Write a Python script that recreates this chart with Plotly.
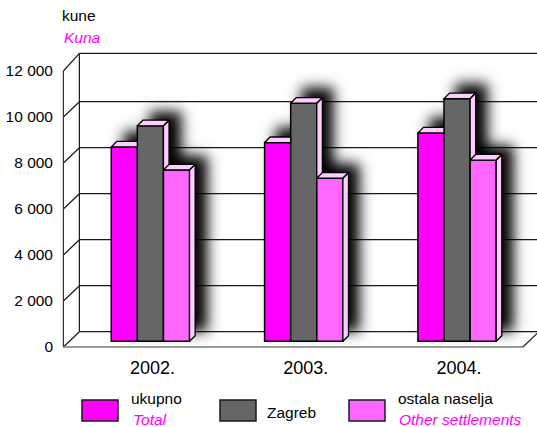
import numpy as np
import plotly.graph_objects as go

# ---- data ----
categories = ["2002.", "2003.", "2004."]
ukupno = [8450, 8640, 9060]
zagreb = [9370, 10350, 10550]
ostala = [7450, 7090, 7880]
y_ticks = [0, 2000, 4000, 6000, 8000, 10000, 12000]
y_labels = ["0", "2 000", "4 000", "6 000", "8 000", "10 000", "12 000"]

# ---- styles ----
MAGENTA, GREY, PINK, FACE = "#ff00ff", "#666666", "#ff66ff", "#ffccff"
FONT = "Liberation Sans, Arial, sans-serif"
W, H = 537, 427
PL, PR, PT, PB = 60, 537, 48, 352      # plot area in page pixels
X0, UX = 150.4, 153.33                 # pixel of category 0, pixels per category
Y0, UY = 347.0, 0.023                  # pixel of value 0, pixels per unit


def xv(px):
    return (px - X0) / UX


def yv(py):
    return (Y0 - py) / UY


def px_x(v):
    return X0 + v * UX


def px_y(v):
    return Y0 - v * UY


def paper_x(px):
    return (px - PL) / (PR - PL)


def paper_y(py):
    return (PB - py) / (PB - PT)


bar_w = 26.1 / UX
bar_base = yv(341.3)
dep_x, dep_y = 5.6 / UX, 5.6 / UY       # depth of a bar
wall_x, wall_y = 16 / UX, 15.3 / UY     # depth of the chart box
wall_top = yv(53.3)
left, right = xv(63.4), xv(522.9)

series = [(ukupno, MAGENTA), (zagreb, GREY), (ostala, PINK)]

shapes = []


def line(x0, y0, x1, y1, color="#1a1a1a", width=1.2):
    shapes.append(dict(type="line", layer="below", xref="x", yref="y", x0=x0, y0=y0, x1=x1, y1=y1,
                       line=dict(color=color, width=width)))


# box: back wall lines and slanted ticks
for v in y_ticks:
    back = wall_top if v == max(y_ticks) else v + wall_y
    line(left + wall_x, back, xv(PR + 5), back)
    line(left, v, left + wall_x, back)
line(left, 0, left, max(y_ticks), "#333333")
line(left + wall_x, wall_y, left + wall_x, wall_top)
line(left, 0, right, 0, "#7a7a7a", 1.6)
line(right, 0, right + wall_x, wall_y)

# soft shadow behind the bars, built from the same values
gx = np.arange(PL, PR + 2, 2.0)
gy = np.arange(PT, PB + 2, 2.0)
mask = np.zeros((gy.size, gx.size))
SX, SY = 11, -10
for j, (vals, _) in enumerate(series):
    for i, v in enumerate(vals):
        l = i + (j - 1.5) * bar_w
        x_a, x_b = px_x(l) + SX, px_x(l + bar_w + dep_x) + SX
        y_a, y_b = px_y(bar_base + v + dep_y) + SY, px_y(bar_base) + SY
        mask[np.ix_((gy >= y_a) & (gy <= y_b), (gx >= x_a) & (gx <= x_b))] = 1
kern = np.exp(-0.5 * (np.arange(-11, 12) / 3.3) ** 2)
kern /= kern.sum()
mask = np.apply_along_axis(lambda c: np.convolve(c, kern, mode="same"), 0, mask)
mask = np.apply_along_axis(lambda c: np.convolve(c, kern, mode="same"), 1, mask)

fig = go.Figure()
fig.add_trace(go.Heatmap(x=xv(gx), y=yv(gy), z=mask, zmin=0, zmax=1, zsmooth="best", showscale=False,
                         hoverinfo="skip",
                         colorscale=[[0, "rgba(0,0,0,0)"], [1, "rgba(0,0,0,1)"]]))

# front faces
names = ["ukupno", "Zagreb", "ostala naselja"]
for j, (vals, col) in enumerate(series):
    fig.add_trace(go.Bar(x=list(range(len(categories))), y=vals, base=bar_base, width=bar_w,
                         offset=(j - 1.5) * bar_w, name=names[j],
                         marker=dict(color=col, line=dict(color="#000000", width=1.5))))

# top and side faces, cut where the next bar in the group hides them
for j, (vals, _) in enumerate(series):
    xs, ys = [], []
    for i, v in enumerate(vals):
        l = i + (j - 1.5) * bar_w
        r = l + bar_w
        t = bar_base + v
        nxt = series[j + 1][0][i] + bar_base if j < 2 else None
        hidden = nxt is not None and nxt >= t + dep_y
        xr = r if hidden else r + dep_x
        xs += [l, l + dep_x, xr, r, l, None]
        ys += [t, t + dep_y, t + dep_y, t, t, None]
        if not hidden:
            low = bar_base if nxt is None else max(nxt, bar_base)
            low_back = bar_base + dep_y if nxt is None else max(nxt, bar_base)
            xs += [r, r + dep_x, r + dep_x, r, r, None]
            ys += [t, t + dep_y, low_back, low, t, None]
    fig.add_trace(go.Scatter(x=xs, y=ys, mode="lines", fill="toself", fillcolor=FACE,
                             line=dict(color="#000000", width=1.3), hoverinfo="skip"))

# legend, drawn by hand because each entry has two lines in two languages
for (a, b, c) in [(82, 118, MAGENTA), (220, 256, GREY), (349, 385, PINK)]:
    shapes.append(dict(type="rect", xref="paper", yref="paper", x0=paper_x(a), x1=paper_x(b),
                       y0=paper_y(421), y1=paper_y(400), fillcolor=c, line=dict(color="#1a1a1a", width=1.5)))

labels = [
    ("kune", 62, 16, "#000000", False), ("Kuna", 64, 37, MAGENTA, True),
    ("ukupno", 131, 398, "#000000", False), ("Total", 133, 419, MAGENTA, True),
    ("Zagreb", 267, 412, "#000000", False),
    ("ostala naselja", 398, 398, "#000000", False), ("Other settlements", 399, 419, MAGENTA, True),
]
annotations = [dict(text=f"<i>{t}</i>" if it else t, xref="paper", yref="paper", x=paper_x(x), y=paper_y(y),
                    xanchor="left", yanchor="middle", showarrow=False, borderpad=0, borderwidth=0,
                    font=dict(family=FONT, size=15.5, color=c))
               for t, x, y, c, it in labels]

fig.update_layout(
    width=W, height=H, autosize=False, showlegend=False, barmode="overlay",
    paper_bgcolor="#ffffff", plot_bgcolor="#ffffff",
    margin=dict(l=PL, r=W - PR, t=PT, b=H - PB, pad=0),
    shapes=shapes, annotations=annotations,
    xaxis=dict(range=[xv(PL), xv(PR)], tickmode="array", tickvals=list(range(len(categories))),
               ticktext=categories, showgrid=False, zeroline=False, showline=False, ticks="",
               tickfont=dict(family=FONT, size=18, color="#000000"), ticklabelshift=2, ticklabelstandoff=3),
    yaxis=dict(range=[yv(PB), yv(PT)], tickmode="array", tickvals=y_ticks, ticktext=y_labels,
               showgrid=False, zeroline=False, showline=False, ticks="",
               tickfont=dict(family=FONT, size=15.5, color="#000000"), ticklabelstandoff=6),
)
fig.write_html("out.html", config=dict(displayModeBar=False),
               post_script="document.body.style.margin='0';document.body.style.overflow='hidden';")
